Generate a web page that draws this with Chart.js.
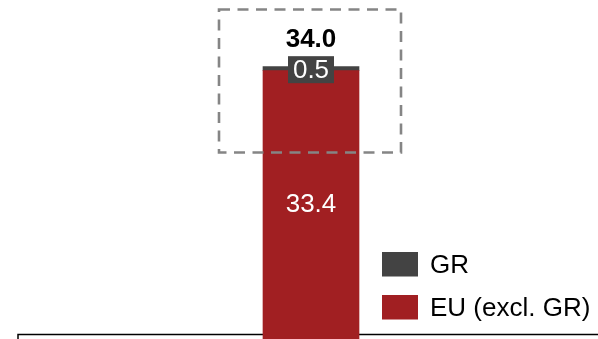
<!DOCTYPE html>
<html>
<head>
<meta charset="utf-8">
<script src="https://cdn.jsdelivr.net/npm/chart.js@4/dist/chart.umd.min.js"></script>
<style>
  html, body { margin: 0; padding: 0; background: #fff; overflow: hidden; }
  #wrap { width: 598px; height: 339px; }
</style>
</head>
<body>
<div id="wrap"><canvas id="mainChart" width="598" height="339"></canvas></div>
<script>
const categories = [''];
const euValues = [33.4];
const grValues = [0.5];
const totals = [34.0];

const RED = '#A11F22';
const DARK = '#434343';
const FONT = '"Liberation Sans", Arial, sans-serif';

const decor = {
    id: 'decor',
    beforeDatasetsDraw(chart) {
        const ctx = chart.ctx;
        ctx.save();
        ctx.strokeStyle = '#000';
        ctx.lineWidth = 1.5;
        ctx.beginPath();
        ctx.moveTo(18, 340);
        ctx.lineTo(18, 334.5);
        ctx.lineTo(598, 334.5);
        ctx.stroke();
        ctx.restore();
    },
    afterDatasetsDraw(chart) {
        const ctx = chart.ctx;
        const euBar = chart.getDatasetMeta(0).data[0];
        const grBar = chart.getDatasetMeta(1).data[0];
        ctx.save();
        ctx.textAlign = 'center';
        ctx.textBaseline = 'middle';

        // EU value inside the bar
        ctx.fillStyle = '#fff';
        ctx.font = `26px ${FONT}`;
        ctx.fillText(euValues[0].toFixed(1), euBar.x, (euBar.y + euBar.base) / 2);

        // GR value in a dark box
        const grMid = (grBar.y + grBar.base) / 2 + 1;
        ctx.fillStyle = DARK;
        ctx.fillRect(grBar.x - 23, grMid - 13.5, 46, 27);
        ctx.fillStyle = '#fff';
        ctx.fillText(grValues[0].toFixed(1), grBar.x, grMid + 1);

        // total on top
        ctx.fillStyle = '#000';
        ctx.font = `bold 26px ${FONT}`;
        ctx.fillText(totals[0].toFixed(1), grBar.x, grBar.y - 27);

        // dashed highlight box
        ctx.strokeStyle = '#858585';
        ctx.lineWidth = 2.6;
        ctx.setLineDash([11, 7.5]);
        ctx.strokeRect(grBar.x - 92, 9.5, 182, 143);
        ctx.setLineDash([]);

        // legend (GR on top)
        ctx.textAlign = 'left';
        ctx.font = `26px ${FONT}`;
        const items = [chart.data.datasets[1], chart.data.datasets[0]];
        items.forEach((ds, i) => {
            const y = 252 + i * 43;
            ctx.fillStyle = ds.backgroundColor;
            ctx.fillRect(382, y, 36, 24.5);
            ctx.fillStyle = '#000';
            ctx.fillText(ds.label, 430, y + 13.5);
        });
        ctx.restore();
    }
};

new Chart(document.getElementById('mainChart').getContext('2d'), {
    type: 'bar',
    data: {
        labels: categories,
        datasets: [
            { label: 'EU (excl. GR)', data: euValues, backgroundColor: RED, barThickness: 96, stack: 's' },
            { label: 'GR', data: grValues, backgroundColor: DARK, barThickness: 96, stack: 's' }
        ]
    },
    options: {
        responsive: false,
        animation: false,
        devicePixelRatio: 1,
        layout: { padding: { left: 24, right: 0, top: 0, bottom: 0 } },
        scales: {
            x: { stacked: true, display: false },
            y: { stacked: true, display: false, min: 0, max: 42.2 }
        },
        plugins: { legend: { display: false }, tooltip: { enabled: false } }
    },
    plugins: [decor]
});
</script>
</body>
</html>
